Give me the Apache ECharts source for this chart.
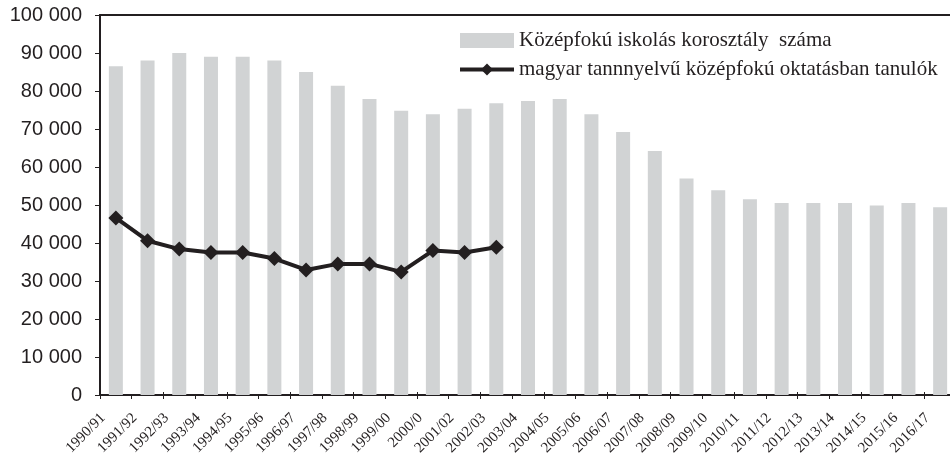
<!DOCTYPE html>
<html lang="hu">
<head>
<meta charset="UTF-8">
<title>Középfokú iskolás korosztály</title>
<script src="https://cdn.jsdelivr.net/npm/echarts@6/dist/echarts.min.js"></script>
<style>
  html, body { margin: 0; padding: 0; background: #fff; }
  #chart { width: 950px; height: 455px; }
</style>
</head>
<body>
<div id="chart"></div>
<script>
// tanévek
var years = ['1990/91', '1991/92', '1992/93', '1993/94', '1994/95', '1995/96', '1996/97',
  '1997/98', '1998/99', '1999/00', '2000/0', '2001/02', '2002/03', '2003/04', '2004/05',
  '2005/06', '2006/07', '2007/08', '2008/09', '2009/10', '2010/11', '2011/12', '2012/13',
  '2013/14', '2014/15', '2015/16', '2016/17'];

// Középfokú iskolás korosztály száma
var korosztaly = [86500, 88000, 90000, 89000, 89000, 88000, 85000, 81400, 77900, 74800,
  73900, 75300, 76800, 77400, 77900, 73900, 69200, 64200, 57000, 53900, 51500, 50500,
  50500, 50500, 49900, 50500, 49400];

// magyar tannyelvű középfokú oktatásban tanulók (csak 2002/03-ig)
var tanulok = [46600, 40600, 38400, 37500, 37500, 35900, 32900, 34500, 34500, 32400,
  38000, 37500, 38900];

var yTicks = { min: 0, max: 100000, step: 10000 };

var ink = '#231f20';

function spaced(v) {
  return String(v).replace(/\B(?=(\d{3})+(?!\d))/g, ' ');
}

var myChart = echarts.init(document.getElementById('chart'));

var option = {
  animation: false,
  grid: {
    left: 100, top: 15, right: -6, bottom: 60,
    outerBoundsMode: 'none',
    show: true, borderColor: ink, borderWidth: 2, backgroundColor: 'transparent'
  },
  legend: {
    orient: 'vertical',
    left: 458, top: 30,
    padding: 0,
    itemWidth: 54, itemHeight: 15,
    itemGap: 8,
    textStyle: { fontFamily: 'Liberation Serif', fontSize: 21, color: ink },
    data: [
      { name: 'Középfokú iskolás korosztály  száma', icon: 'rect' },
      {
        name: 'magyar tannnyelvű középfokú oktatásban tanulók',
        lineStyle: { color: ink, width: 4 },
        itemStyle: { color: ink }
      }
    ]
  },
  xAxis: [{
    type: 'category',
    data: years,
    axisLine: { lineStyle: { color: ink, width: 1.5 } },
    axisTick: { show: true, length: 4, lineStyle: { color: ink, width: 1 } },
    axisLabel: {
      // a feliratok a kategória bal széléhez igazodnak, mint az eredetin
      interval: 0, rotate: 45, margin: 8,
      fontFamily: 'Liberation Serif', fontSize: 15, color: ink,
      padding: [0, 18, 0, 0]
    },
    splitLine: { show: false }
  }, {
    type: 'category',
    data: years,
    position: 'bottom',
    axisLine: { show: false },
    axisTick: { show: true, inside: true, length: 3, lineStyle: { color: ink, width: 1 } },
    axisLabel: { show: false },
    splitLine: { show: false }
  }],
  yAxis: {
    type: 'value',
    min: yTicks.min, max: yTicks.max, interval: yTicks.step,
    axisLine: { show: true, lineStyle: { color: ink, width: 1.5 } },
    axisTick: { show: true, length: 5, lineStyle: { color: ink, width: 1 } },
    axisLabel: {
      margin: 18,
      fontFamily: 'Liberation Sans', fontSize: 20, color: ink,
      formatter: spaced
    },
    splitLine: { show: false }
  },
  series: [{
    name: 'Középfokú iskolás korosztály  száma',
    type: 'bar',
    data: korosztaly,
    barWidth: 14,
    itemStyle: { color: '#d1d3d4' }
  }, {
    name: 'magyar tannnyelvű középfokú oktatásban tanulók',
    type: 'line',
    data: tanulok,
    symbol: 'diamond',
    symbolSize: 15,
    lineStyle: { color: ink, width: 4 },
    itemStyle: { color: ink },
    z: 5
  }]
};

if (option && typeof option === 'object') {
  myChart.setOption(option, true);
}
</script>
</body>
</html>
